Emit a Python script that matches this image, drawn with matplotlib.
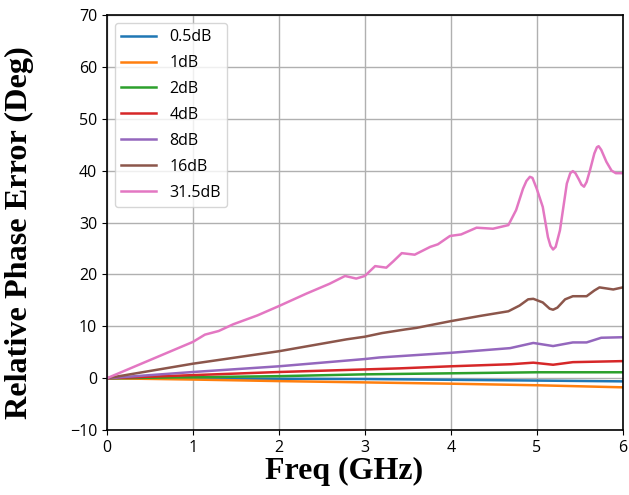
import matplotlib
matplotlib.use("Agg")
import matplotlib.pyplot as plt

# values
freq_lin = [0, 1, 2, 3, 4, 5, 6]
err_05 = [0, -0.05, -0.1, -0.15, -0.3, -0.45, -0.6]
err_1 = [0, -0.25, -0.55, -0.8, -1.05, -1.35, -1.75]
err_2 = [0, 0.2, 0.4, 0.75, 0.95, 1.15, 1.15]

freq_4 = [0, 1, 2, 3, 3.4, 4, 4.7, 4.96, 5.19, 5.42, 6]
err_4 = [0, 0.6, 1.2, 1.7, 1.9, 2.3, 2.7, 3.0, 2.6, 3.1, 3.3]

freq_8 = [0, 1, 2, 3, 3.17, 4, 4.69, 4.96, 5.19, 5.42, 5.58, 5.75, 6]
err_8 = [0, 1.2, 2.3, 3.7, 4.0, 4.9, 5.8, 6.8, 6.2, 6.9, 6.9, 7.8, 7.9]

freq_16 = [0, 1, 2, 2.79, 3.0, 3.2, 3.47, 3.6, 4.0, 4.34, 4.67, 4.8, 4.9,
           4.96, 5.07, 5.15, 5.19, 5.24, 5.33, 5.42, 5.58, 5.67, 5.73, 5.89,
           6.0]
err_16 = [0, 2.8, 5.2, 7.5, 8.0, 8.7, 9.4, 9.7, 11.0, 12.0, 12.9, 14.0, 15.2,
          15.3, 14.6, 13.4, 13.2, 13.6, 15.2, 15.8, 15.8, 16.9, 17.5, 17.1,
          17.5]

freq_315 = [0, 0.5, 1.0, 1.14, 1.3, 1.47, 1.75, 2.0, 2.32, 2.59, 2.77, 2.9,
            3.0, 3.12, 3.25, 3.33, 3.43, 3.58, 3.76, 3.85, 3.99, 4.12, 4.3,
            4.49, 4.67, 4.76, 4.84, 4.88, 4.92, 4.95, 5.0, 5.07, 5.13, 5.16,
            5.19, 5.22, 5.27, 5.35, 5.39, 5.42, 5.45, 5.49, 5.52, 5.55, 5.58,
            5.62, 5.67, 5.70, 5.72, 5.75, 5.81, 5.87, 5.92, 6.0]
err_315 = [0, 3.5, 7.0, 8.4, 9.1, 10.4, 12.1, 13.9, 16.3, 18.2, 19.7, 19.2,
           19.7, 21.6, 21.3, 22.5, 24.1, 23.8, 25.3, 25.8, 27.4, 27.7, 29.0,
           28.8, 29.5, 32.4, 36.5, 38.0, 38.8, 38.6, 36.5, 33.0, 27.2, 25.5,
           24.8, 25.3, 28.5, 37.5, 39.5, 39.9, 39.5, 38.3, 37.3, 36.9, 37.8,
           40.1, 43.3, 44.5, 44.7, 44.0, 41.7, 40.0, 39.5, 39.5]

series = [
    ("0.5dB", freq_lin, err_05),
    ("1dB", freq_lin, err_1),
    ("2dB", freq_lin, err_2),
    ("4dB", freq_4, err_4),
    ("8dB", freq_8, err_8),
    ("16dB", freq_16, err_16),
    ("31.5dB", freq_315, err_315),
]

plt.rcParams["font.family"] = ["Open Sans", "DejaVu Sans"]

fig = plt.figure(figsize=(6.29, 4.95), dpi=100)
ax = fig.add_axes([0.170, 0.131, 0.820, 0.839])

for label, x, y in series:
    ax.plot(x, y, lw=1.8, label=label, solid_joinstyle="round")

ax.set_xlim(0, 6)
ax.set_ylim(-10, 70)
ax.set_xticks(range(0, 7))
ax.set_yticks(range(-10, 71, 10))
ax.grid(True, color="#b0b0b0", lw=1.0)
ax.tick_params(labelsize=11.5)
for s in ax.spines.values():
    s.set_linewidth(1.2)

ax.set_xlabel("Freq (GHz)", family="Liberation Serif", fontweight="bold",
              fontsize=23)
ax.set_ylabel("Relative Phase Error (Deg)", family="Liberation Serif",
              fontweight="bold", fontsize=23.2)
ax.xaxis.set_label_coords(0.459, -0.065)
ax.yaxis.set_label_coords(-0.141, 0.475)

ax.legend(loc="upper left", fontsize=11.5, handlelength=2.2, labelspacing=0.62)

fig.savefig("out.png", dpi=100)
